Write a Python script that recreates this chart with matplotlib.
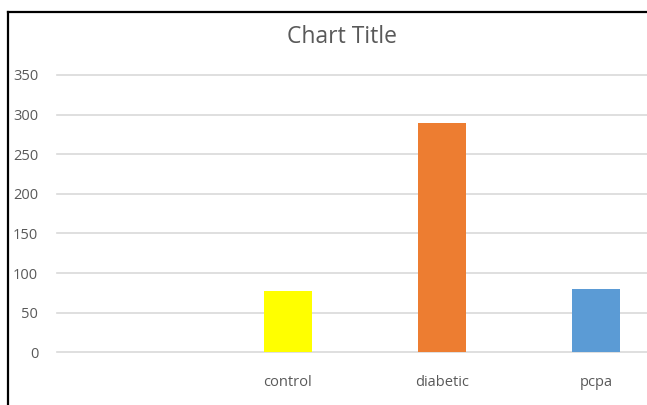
import matplotlib.pyplot as plt
from matplotlib.lines import Line2D

# data
categories = ['', 'control', 'diabetic', 'pcpa']
values = [0, 78, 289, 80]
colors = ['#ffffff', '#ffff00', '#ed7d31', '#5b9bd5']
yticks = [0, 50, 100, 150, 200, 250, 300, 350]

W, H = 647, 405
fig = plt.figure(figsize=(W / 100, H / 100), dpi=100)
plt.rcParams['font.family'] = ['Open Sans', 'DejaVu Sans']

# plot area: left edge at 57px, extends past the right edge (chart is cropped)
left, right = 57, 673
top, bottom = 75, 352.3
ax = fig.add_axes([left / W, (H - bottom) / H, (right - left) / W, (bottom - top) / H])

x = range(len(categories))
ax.bar(x, values, width=0.31, color=colors, zorder=3)

ax.set_xlim(-0.5, len(categories) - 0.5)
ax.set_ylim(0, 350)
ax.set_yticks(yticks)
ax.set_xticks(list(x))
ax.set_xticklabels(categories)
ax.grid(axis='y', color='#d9d9d9', linewidth=1.2, zorder=0)
for gl in ax.get_ygridlines():
    gl.set_clip_on(False)
for s in ax.spines.values():
    s.set_visible(False)
ax.tick_params(axis='both', length=0, colors='#595959', labelsize=10.5)
ax.tick_params(axis='y', pad=13.5)
ax.tick_params(axis='x', pad=16)

fig.text(342 / W, 1 - 37 / H, 'Chart Title', ha='center', va='center',
         fontsize=16.5, color='#595959')

# black frame of the chart (only left and top sides are visible)
fig.add_artist(Line2D([8 / W, 8 / W], [0, 1 - 12 / H], color='black', linewidth=1.6,
                      transform=fig.transFigure))
fig.add_artist(Line2D([8 / W, 1], [1 - 12 / H, 1 - 12 / H], color='black', linewidth=1.6,
                      transform=fig.transFigure))

fig.savefig('out.png', dpi=100)
